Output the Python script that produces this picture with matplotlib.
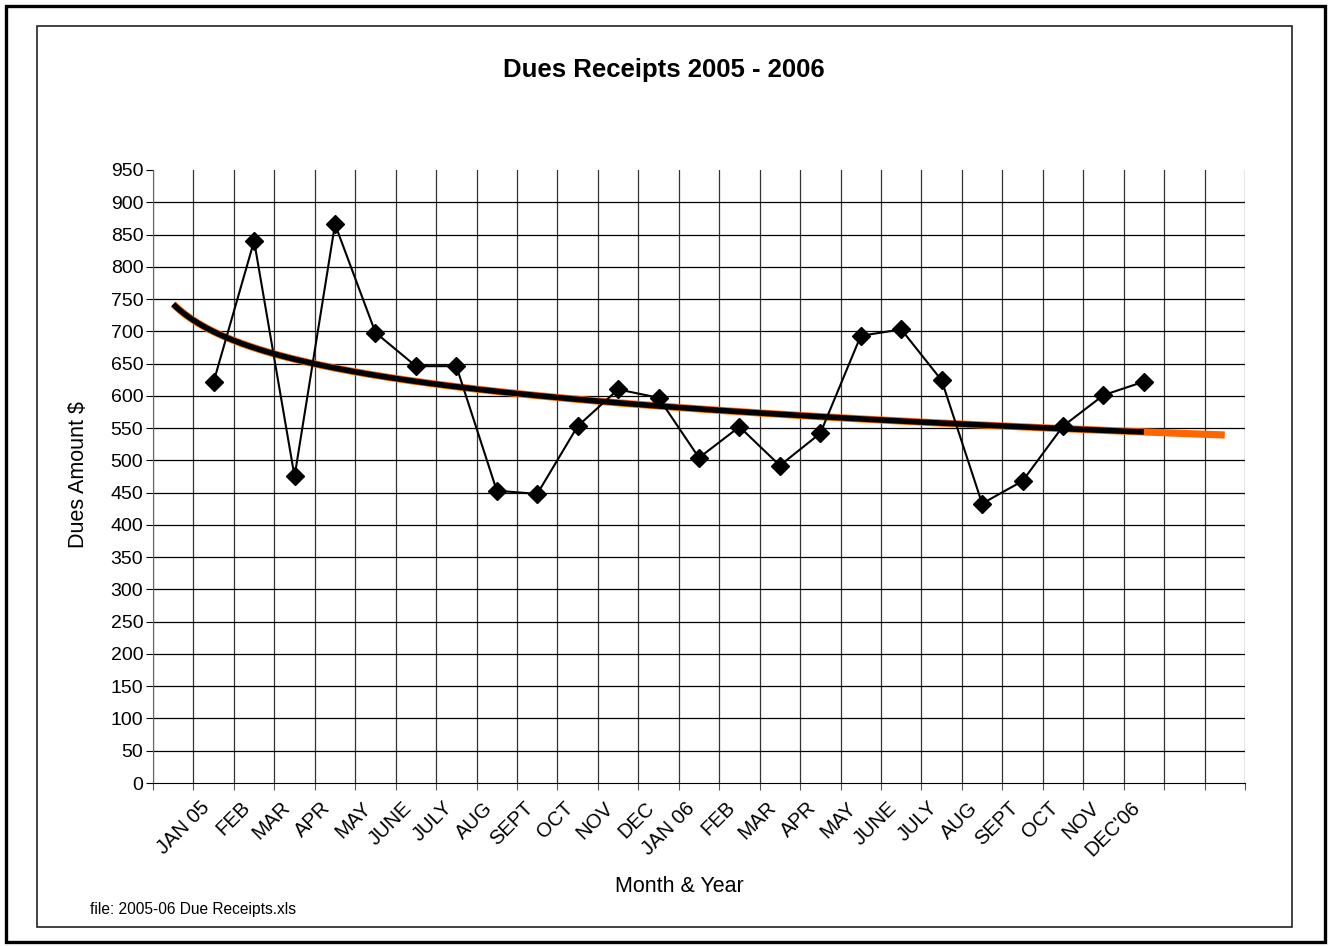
import numpy as np
import matplotlib
matplotlib.use("Agg")
import matplotlib.pyplot as plt
import matplotlib.transforms as mtransforms
from matplotlib.patches import Rectangle

plt.rcParams['font.family'] = ['Liberation Sans', 'DejaVu Sans']

# data
months = ["JAN 05", "FEB", "MAR", "APR", "MAY", "JUNE", "JULY", "AUG", "SEPT",
          "OCT", "NOV", "DEC", "JAN 06", "FEB", "MAR", "APR", "MAY", "JUNE",
          "JULY", "AUG", "SEPT", "OCT", "NOV", "DEC'06"]
dues = [622, 840, 475, 866, 698, 646, 646, 453, 448, 553, 610, 597,
        504, 552, 492, 542, 693, 703, 624, 433, 468, 553, 601, 622]
n_categories = 27          # one empty slot in front, two forecast slots after
first_slot = 2
forecast = 2

x = np.arange(first_slot, first_slot + len(dues))

# logarithmic trendline like Excel's
b, a = np.polyfit(np.log(x), dues, 1)
xt = np.linspace(1, x[-1], 300)
xf = np.linspace(1, x[-1] + forecast, 300)

fig = plt.figure(figsize=(13.29, 9.46), dpi=100)
ax = fig.add_axes([153/1329, 1 - 783/946, 1092/1329, 613/946])

ax.plot(xf, a + b*np.log(xf), color='#ff6600', lw=5.2, solid_capstyle='butt', zorder=3)
ax.plot(xt, a + b*np.log(xt), color='black', lw=4.0, solid_capstyle='butt', zorder=4)
ax.plot(x, dues, color='black', lw=1.5, marker='D', ms=9, zorder=5)

ax.set_xlim(0.5, n_categories + 0.5)
ax.set_ylim(0, 950)
ax.set_yticks(np.arange(0, 951, 50))
ax.set_xticks(np.arange(0.5, n_categories + 1, 1))
ax.set_xticklabels([])
ax.set_xticks(x, minor=True)
ax.set_xticklabels(months, minor=True)
ax.tick_params(axis='x', which='minor', length=0, pad=11, labelsize=14.5)
ax.tick_params(axis='x', which='major', length=5, direction='out', color='#555')
ax.tick_params(axis='y', length=5, direction='out', pad=2, labelsize=14)
shift = mtransforms.ScaledTranslation(-14/100, 0, fig.dpi_scale_trans)
for lab in ax.get_xticklabels(minor=True):
    lab.set_rotation(45)
    lab.set_ha('right')
    lab.set_rotation_mode('anchor')
    lab.set_transform(lab.get_transform() + shift)

for v in np.arange(50, 901, 50):
    ax.axhline(v, color='black', lw=0.9, zorder=1)
ax.grid(axis='x', which='major', color='#333', lw=0.9, zorder=1)
ax.set_axisbelow(True)

for s in ['top', 'right']:
    ax.spines[s].set_visible(False)
ax.spines['left'].set_color('#666')
ax.spines['bottom'].set_color('black')

fig.text(78/1329, 1 - 475/946, "Dues Amount $", fontsize=15.5, rotation=90,
         ha='center', va='center')
fig.text(664/1329, 1 - 70/946, "Dues Receipts 2005 - 2006", fontsize=18.5,
         fontweight='bold', ha='center', va='center')
fig.text(679/1329, 1 - 886/946, "Month & Year", fontsize=15.5,
         ha='center', va='center')
fig.text(90/1329, 1 - 909/946, "file: 2005-06 Due Receipts.xls", fontsize=11.2,
         ha='left', va='center')

# chart borders
fig.patches.append(Rectangle((37/1329, 1 - 927/946), 1255/1329, 901/946,
                             transform=fig.transFigure, fill=False,
                             ec='#222', lw=1.2))
fig.patches.append(Rectangle((6/1329, 1 - 942/946), 1319/1329, 936/946,
                             transform=fig.transFigure, fill=False,
                             ec='black', lw=2.4))

plt.savefig("out.png", dpi=100)
